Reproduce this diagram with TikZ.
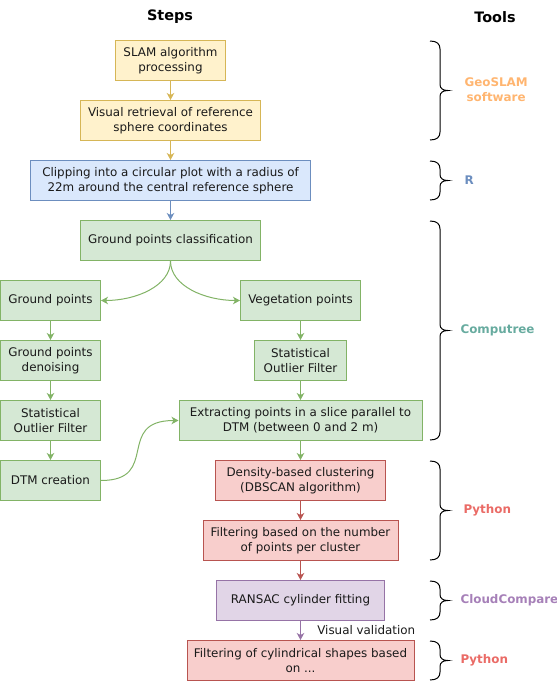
\documentclass[tikz,border=0pt]{standalone}
\usepackage{fontspec}
\setmainfont{DejaVu Sans}
\usetikzlibrary{arrows.meta}
\definecolor{yfill}{HTML}{FFF2CC}
\definecolor{ydraw}{HTML}{D6B656}
\definecolor{bfill}{HTML}{DAE8FC}
\definecolor{bdraw}{HTML}{6C8EBF}
\definecolor{gfill}{HTML}{D5E8D4}
\definecolor{gdraw}{HTML}{82B366}
\definecolor{rfill}{HTML}{F8CECC}
\definecolor{rdraw}{HTML}{B85450}
\definecolor{pfill}{HTML}{E1D5E7}
\definecolor{pdraw}{HTML}{9673A6}
\definecolor{geoslamcol}{HTML}{FFB570}
\definecolor{rcol}{HTML}{6C8EBF}
\definecolor{computreecol}{HTML}{67AB9F}
\definecolor{pythoncol}{HTML}{EA6B66}
\definecolor{cloudcol}{HTML}{A680B8}
\definecolor{txtcol}{HTML}{1A1A1A}

\begin{document}
\begin{tikzpicture}[x=1pt,y=-1pt,
    txt/.style={font=\fontsize{11.9}{15}\selectfont, text=txtcol},
    box/.style={txt, draw, line width=1pt, minimum height=40, align=center, inner sep=2pt},
    ybox/.style={box, fill=yfill, draw=ydraw},
    bbox/.style={box, fill=bfill, draw=bdraw},
    gbox/.style={box, fill=gfill, draw=gdraw},
    rbox/.style={box, fill=rfill, draw=rdraw},
    pbox/.style={box, fill=pfill, draw=pdraw},
    arr/.style={line width=1pt, -{Stealth[length=7pt,width=7.5pt,inset=2pt]}},
    title/.style={font=\fontsize{14.4}{17}\selectfont\bfseries},
    tool/.style={anchor=west, align=center, font=\fontsize{11.9}{15}\selectfont\bfseries}]
    \useasboundingbox (0,0) rectangle (557,681);
    \node [title] (steps) at (170,17) {Steps};
    \node [title] (tools) at (495,17) {Tools};
    \node [ybox, minimum width=110] (slam) at (170.5,60.5) {SLAM algorithm\\processing};
    \node [ybox, minimum width=180] (vis) at (170.5,120.5) {Visual retrieval of reference\\sphere coordinates};
    \node [bbox, minimum width=280] (clip) at (170.5,180.5) {Clipping into a circular plot with a radius of\\22m around the central reference sphere};
    \node [gbox, minimum width=180] (gpc) at (170.5,240.5) {Ground points classification};
    \node [gbox, minimum width=100] (gp) at (50.5,300.5) {Ground points};
    \node [gbox, minimum width=120] (veg) at (300.5,300.5) {Vegetation points};
    \node [gbox, minimum width=100] (gpd) at (50.5,360.5) {Ground points\\denoising};
    \node [gbox, minimum width=92] (sofv) at (300.5,360.5) {Statistical\\Outlier Filter};
    \node [gbox, minimum width=100] (sofg) at (50.5,420.5) {Statistical\\Outlier Filter};
    \node [gbox, minimum width=243] (ext) at (300.5,420.5) {Extracting points in a slice parallel to\\DTM (between 0 and 2 m)};
    \node [gbox, minimum width=100] (dtm) at (50.5,480.5) {DTM creation};
    \node [rbox, minimum width=170] (dbs) at (300.5,480.5) {Density-based clustering\\(DBSCAN algorithm)};
    \node [rbox, minimum width=195] (fnum) at (300.5,540.5) {Filtering based on the number\\of points per cluster};
    \node [pbox, minimum width=168] (ransac) at (300.5,600.5) {RANSAC cylinder fitting};
    \node [rbox, minimum width=227] (fcyl) at (300.5,660.5) {Filtering of cylindrical shapes based\\on ...};
    \draw [arr, ydraw] (slam) -- (vis);
    \draw [arr, ydraw] (vis) -- (clip);
    \draw [arr, bdraw] (clip) -- (gpc);
    \draw [arr, gdraw] (gpc.south) .. controls +(0,25) and +(35,0) .. (gp.east);
    \draw [arr, gdraw] (gpc.south) .. controls +(0,25) and +(-35,0) .. (veg.west);
    \draw [arr, gdraw] (gp) -- (gpd);
    \draw [arr, gdraw] (gpd) -- (sofg);
    \draw [arr, gdraw] (sofg) -- (dtm);
    \draw [arr, gdraw] (veg) -- (sofv);
    \draw [arr, gdraw] (sofv) -- (ext);
    \draw [arr, gdraw] (dtm.east) .. controls +(60,0) and +(-64,0) .. (ext.west);
    \draw [arr, gdraw] (ext) -- (dbs);
    \draw [arr, rdraw] (dbs) -- (fnum);
    \draw [arr, rdraw] (fnum) -- (ransac);
    \draw [arr, pdraw] (ransac) -- node [txt, right=13pt] (vv) {Visual validation} (fcyl);
    \foreach \ya/\yb in {41/140,161/200,221/440,461/560,581/620,641/680} {
      \pgfmathsetmacro{\ym}{(\ya+\yb)/2}
      \draw [line width=1pt] (430,\ya) .. controls (437,\ya) and (440,{\ya+3}) .. (440,{\ya+8})
        -- (440,{\ym-6}) .. controls (440,{\ym-2}) and (443,\ym) .. (448,\ym)
        .. controls (443,\ym) and (440,{\ym+2}) .. (440,{\ym+6})
        -- (440,{\yb-8}) .. controls (440,{\yb-3}) and (437,\yb) .. (430,\yb);
    }
    \node [tool, geoslamcol] (geoslam) at (461,90) {GeoSLAM\\software};
    \node [tool, rcol] (rtool) at (461,180) {R};
    \node [tool, computreecol] (computree) at (457,330) {Computree};
    \node [tool, pythoncol] (python) at (460,510) {Python};
    \node [tool, cloudcol] (cloudcompare) at (457,600) {CloudCompare};
    \node [tool, pythoncol] (pythonb) at (457,660) {Python};
\end{tikzpicture}
\end{document}
